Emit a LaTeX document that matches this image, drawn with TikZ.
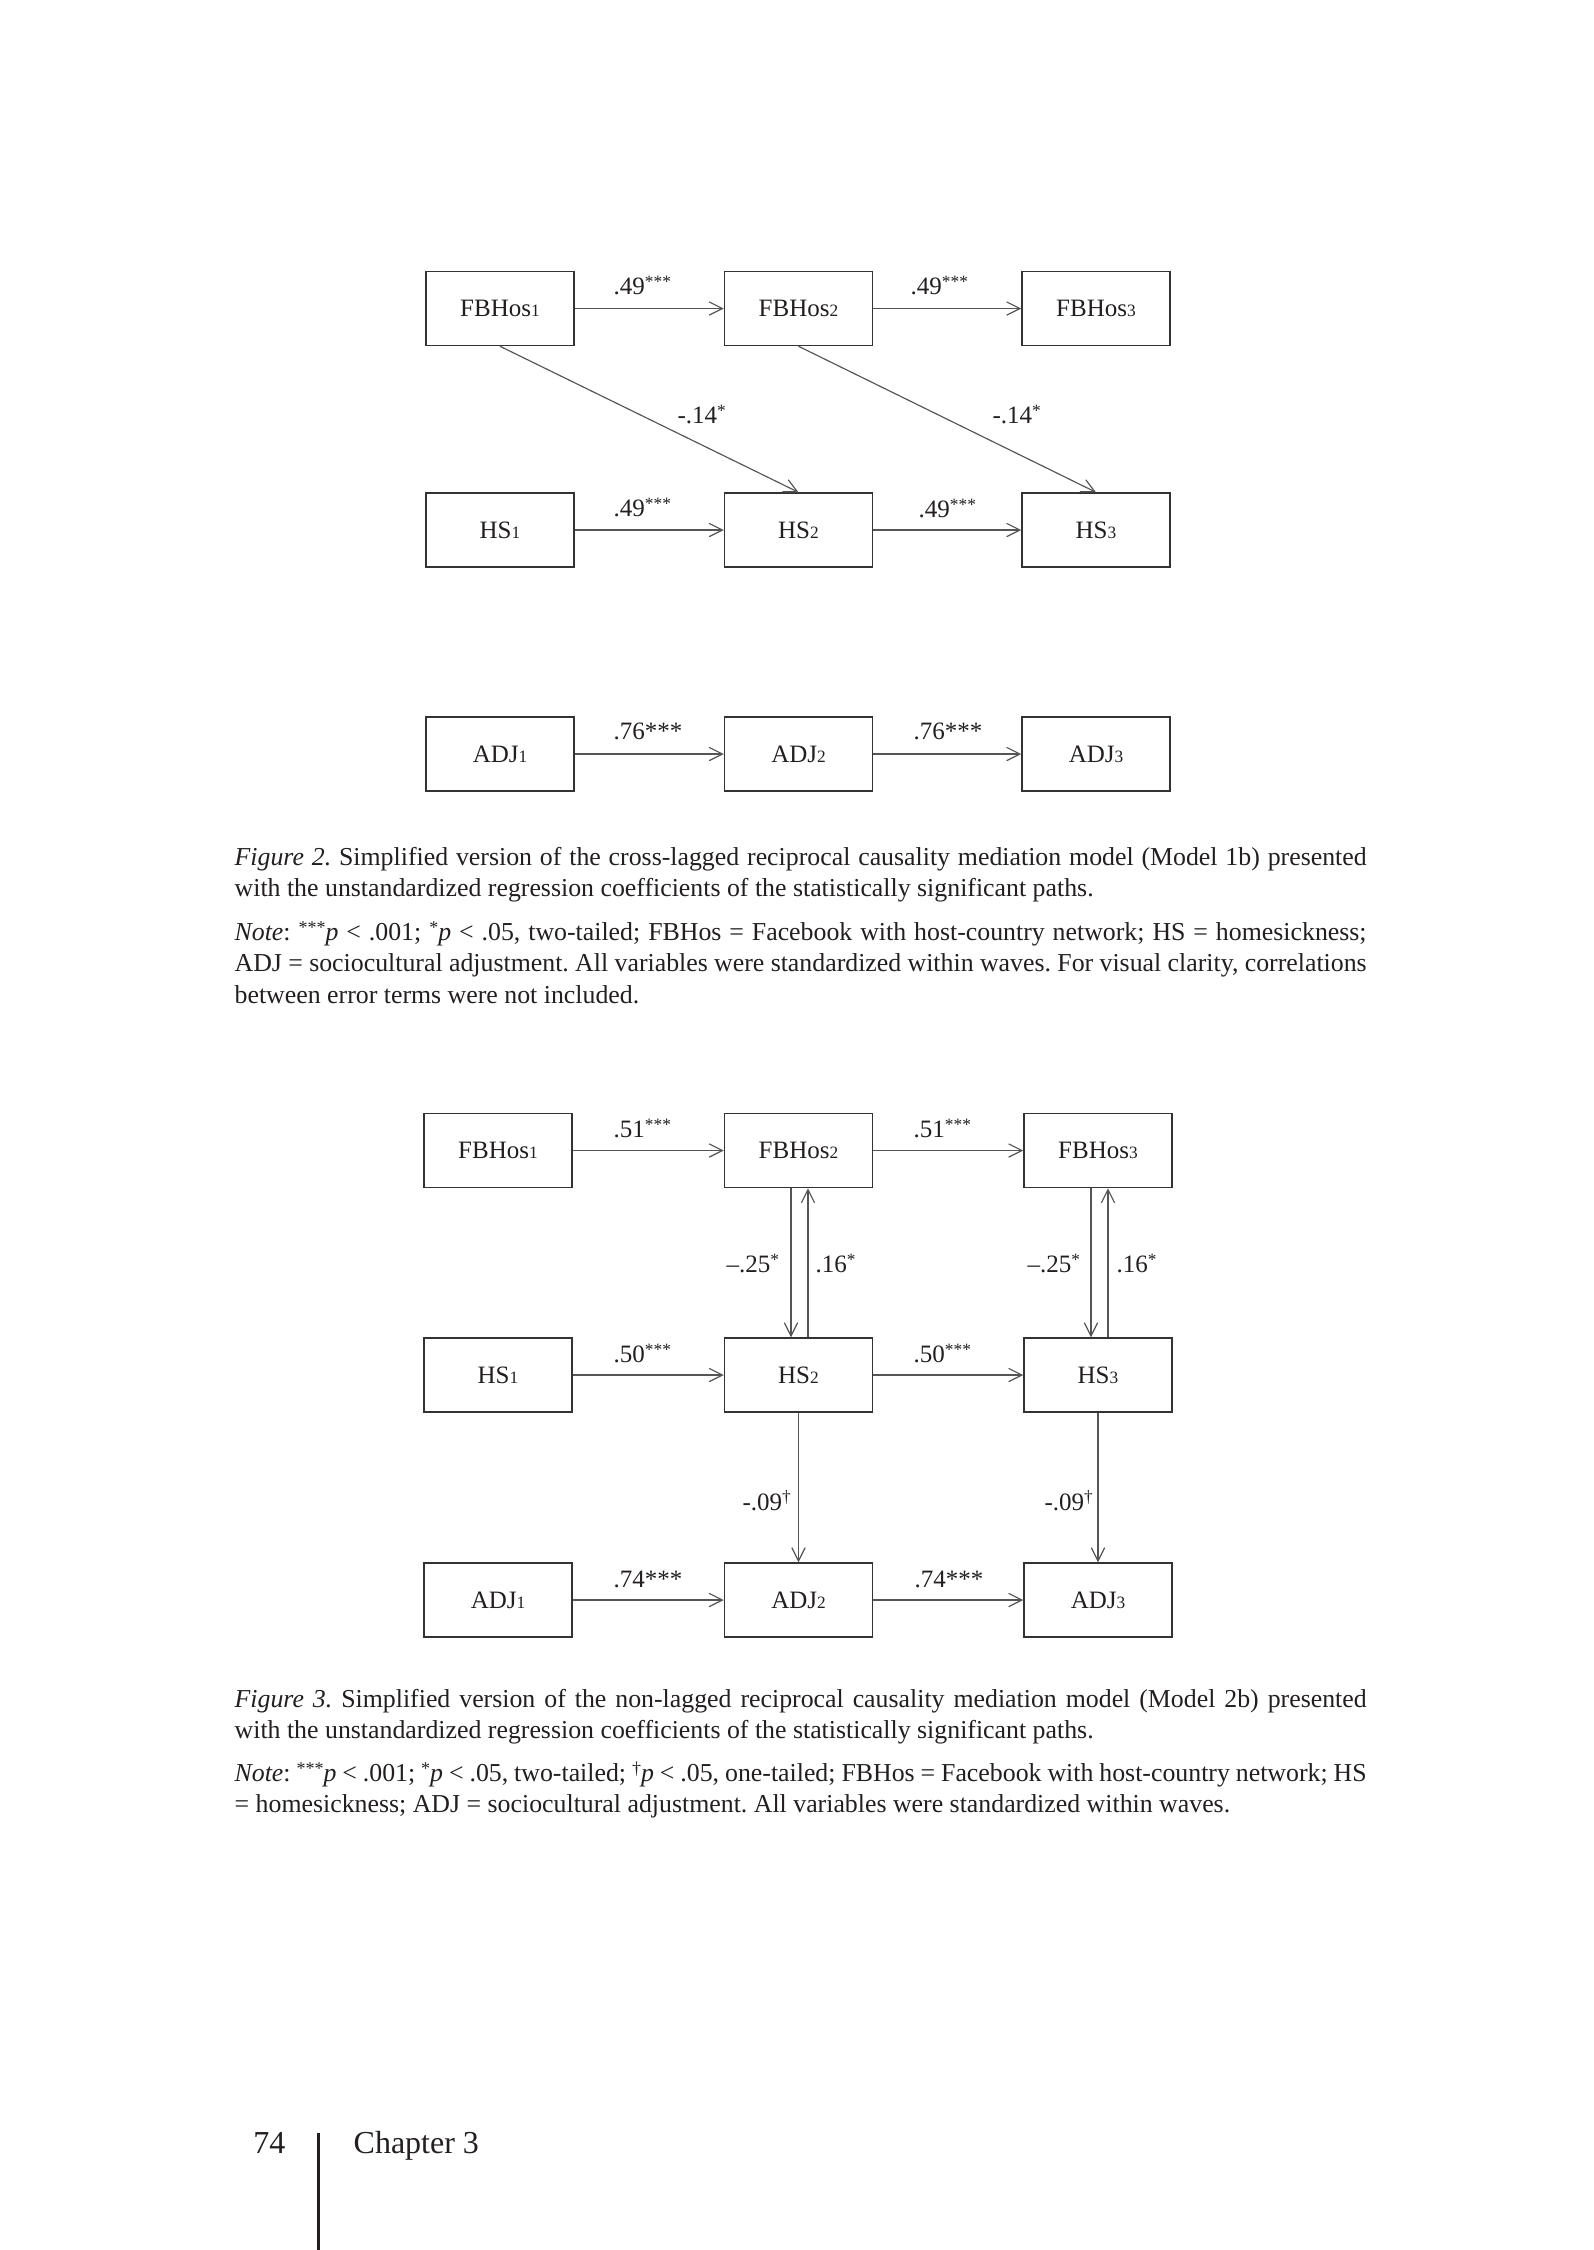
\documentclass[tikz,border=0pt]{standalone}
\usepackage{fontspec}
\setmainfont{Liberation Serif}
\usetikzlibrary{arrows.meta}
\frenchspacing
\newcommand\lowdig[1]{{\fontsize{5.2pt}{5pt}\selectfont #1}}
\newcommand\starsup[1]{\raisebox{1.9pt}{\fontsize{5.2pt}{5pt}\selectfont #1}}
\newcommand\dagsup{\raisebox{2.4pt}{\fontsize{5.2pt}{5pt}\selectfont\textdagger}}
\newcommand\capsup[1]{\raisebox{2pt}{\fontsize{5.4pt}{5pt}\selectfont #1}}
\definecolor{txt}{HTML}{231F20}
\definecolor{boxc}{HTML}{333333}
\definecolor{linec}{HTML}{555555}
\begin{document}
\begin{tikzpicture}[x=0.3pt,y=-0.3pt,
  var/.style={draw=boxc, line width=0.45pt, minimum width=44.4pt, minimum height=22.2pt,
    inner sep=0pt, font=\fontsize{7.5pt}{9pt}\selectfont, text=txt},
  pth/.style={draw=linec, line width=0.35pt, -{Straight Barb[length=4pt,width=4pt]}},
  coef/.style={font=\fontsize{7.5pt}{9pt}\selectfont, text=txt, inner sep=0pt, anchor=base west},
  captxt/.style={font=\fontsize{7.75pt}{9.5pt}\selectfont, text=txt, inner sep=0pt, anchor=base west},
  foot/.style={font=\fontsize{9.6pt}{11pt}\selectfont, text=txt, inner sep=0pt, anchor=base west}
]
\fill[white] (0,0) rectangle (1594,2250);
\path[use as bounding box] (0,0) rectangle (1594,2250);

% ---------------- Figure 2 ----------------
\node[var] (F1) at (500,308.5) {FBHos\lowdig{1}};
\node[var] (F2) at (798.5,308.5) {FBHos\lowdig{2}};
\node[var] (F3) at (1096,308.5) {FBHos\lowdig{3}};
\node[var] (H1) at (500,530) {HS\lowdig{1}};
\node[var] (H2) at (798.5,530) {HS\lowdig{2}};
\node[var] (H3) at (1096,530) {HS\lowdig{3}};
\node[var] (A1) at (500,754) {ADJ\lowdig{1}};
\node[var] (A2) at (798.5,754) {ADJ\lowdig{2}};
\node[var] (A3) at (1096,754) {ADJ\lowdig{3}};

\draw[pth] (F1) -- (F2);
\draw[pth] (F2) -- (F3);
\draw[pth] (H1) -- (H2);
\draw[pth] (H2) -- (H3);
\draw[pth] (A1) -- (A2);
\draw[pth] (A2) -- (A3);
\draw[pth] (F1.south) -- (H2.north);
\draw[pth] (F2.south) -- (H3.north);

\node[coef] (c1) at (613,294) {.49\starsup{***}};
\node[coef] (c2) at (910,294) {.49\starsup{***}};
\node[coef] (c3) at (613,516) {.49\starsup{***}};
\node[coef] (c4) at (918,517) {.49\starsup{***}};
\node[coef] (c5) at (677,423) {-.14\starsup{*}};
\node[coef] (c6) at (992,423) {-.14\starsup{*}};
\node[coef] (c7) at (613,739) {.76***};
\node[coef] (c8) at (913,739) {.76***};

\node[captxt] (cap2a) at (234,865) {\parbox[t]{339.6pt}{\textit{Figure 2.} Simplified version of the cross-lagged reciprocal causality mediation model (Model 1b) presented\linebreak with the unstandardized regression coefficients of the statistically significant paths.}};
\node[captxt] (cap2b) at (234,940) {\parbox[t]{339.6pt}{\textit{Note}: \capsup{***}\textit{p} < .001; \capsup{*}\textit{p} < .05, two-tailed; FBHos = Facebook with host-country network; HS = homesickness;\linebreak ADJ = sociocultural adjustment. All variables were standardized within waves. For visual clarity, correlations\linebreak between error terms were not included.}};

% ---------------- Figure 3 ----------------
\node[var] (G1) at (498,1150.5) {FBHos\lowdig{1}};
\node[var] (G2) at (798.5,1150.5) {FBHos\lowdig{2}};
\node[var] (G3) at (1098,1150.5) {FBHos\lowdig{3}};
\node[var] (K1) at (498,1375) {HS\lowdig{1}};
\node[var] (K2) at (798.5,1375) {HS\lowdig{2}};
\node[var] (K3) at (1098,1375) {HS\lowdig{3}};
\node[var] (B1) at (498,1600) {ADJ\lowdig{1}};
\node[var] (B2) at (798.5,1600) {ADJ\lowdig{2}};
\node[var] (B3) at (1098,1600) {ADJ\lowdig{3}};

\draw[pth] (G1) -- (G2);
\draw[pth] (G2) -- (G3);
\draw[pth] (K1) -- (K2);
\draw[pth] (K2) -- (K3);
\draw[pth] (B1) -- (B2);
\draw[pth] (B2) -- (B3);
\draw[pth] ([xshift=-2.25pt]G2.south) -- ([xshift=-2.25pt]K2.north);
\draw[pth] ([xshift=2.85pt]K2.north) -- ([xshift=2.85pt]G2.south);
\draw[pth] ([xshift=-2.1pt]G3.south) -- ([xshift=-2.1pt]K3.north);
\draw[pth] ([xshift=3pt]K3.north) -- ([xshift=3pt]G3.south);
\draw[pth] (K2.south) -- (B2.north);
\draw[pth] (K3.south) -- (B3.north);

\node[coef] (d1) at (613,1137) {.51\starsup{***}};
\node[coef] (d2) at (913,1137) {.51\starsup{***}};
\node[coef] (d3) at (613,1362) {.50\starsup{***}};
\node[coef] (d4) at (913,1362) {.50\starsup{***}};
\node[coef] (d5) at (726,1272) {--.25\starsup{*}};
\node[coef] (d6) at (815,1272) {.16\starsup{*}};
\node[coef] (d7) at (1027,1272) {--.25\starsup{*}};
\node[coef] (d8) at (1116,1272) {.16\starsup{*}};
\node[coef] (d9) at (742,1510) {-.09\dagsup};
\node[coef] (d10) at (1044,1510) {-.09\dagsup};
\node[coef] (d11) at (613,1587) {.74***};
\node[coef] (d12) at (914,1587) {.74***};

\node[captxt] (cap3a) at (234,1707) {\parbox[t]{339.6pt}{\textit{Figure 3.} Simplified version of the non-lagged reciprocal causality mediation model (Model 2b) presented\linebreak with the unstandardized regression coefficients of the statistically significant paths.}};
\node[captxt] (cap3b) at (234,1781) {\parbox[t]{339.6pt}{\textit{Note}: \capsup{***}\textit{p} < .001; \capsup{*}\textit{p} < .05, two-tailed; \capsup{\textdagger}\textit{p} < .05, one-tailed; FBHos = Facebook with host-country network; HS\linebreak = homesickness; ADJ = sociocultural adjustment. All variables were standardized within waves.}};

% ---------------- Footer ----------------
\node[foot] (pg) at (252.7,2153) {74};
\node[foot] (ch) at (353,2153) {Chapter 3};
\coordinate (vt) at (318.3,2133);
\coordinate (vb) at (318.3,2250);
\draw[txt, line width=1pt] (vt) -- (vb);
\end{tikzpicture}
\end{document}
